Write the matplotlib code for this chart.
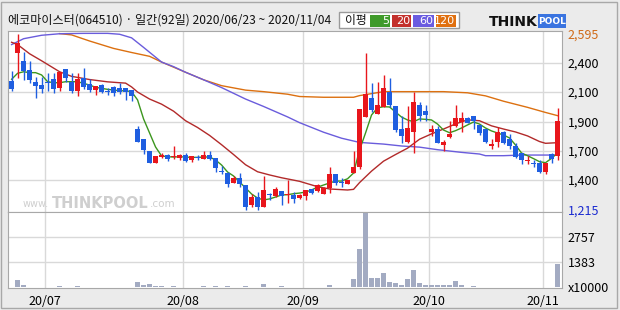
import matplotlib
matplotlib.use("Agg")
import matplotlib.pyplot as plt
from matplotlib.patches import Rectangle
import numpy as np

plt.rcParams['font.family'] = ['Noto Sans CJK KR', 'DejaVu Sans']

# daily candles, 2020/06/23 ~ 2020/11/04 (92 trading days)
opens = [2229, 2444, 2383, 2313, 2219, 2195, 2221, 2240, 2174, 2318,
         2221, 2148, 2252, 2203, 2156, 2195, 2145, 2182, 2169, 2169,
         2156, 1850, 1772, 1678, 1586, 1633, 1646, 1628, 1623, 1646,
         1607, 1633, 1617, 1646, 1620, 1522, 1508, 1429, 1464, 1411,
         1254, 1319, 1241, 1338, 1325, 1364, 1330, 1333, 1312, 1327,
         1380, 1367, 1338, 1390, 1497, 1437, 1419, 1508, 1555, 1947,
         2091, 1968, 2025, 2143, 2030, 1848, 1751, 1829, 2039, 1991,
         1829, 1850, 1725, 1790, 1874, 1903, 1934, 1952, 1882, 1850,
         1717, 1751, 1829, 1772, 1717, 1660, 1602, 1587, 1587, 1516,
         1654, 1638]
highs = [2305, 2595, 2456, 2386, 2260, 2260, 2287, 2287, 2300, 2320,
         2287, 2292, 2326, 2240, 2190, 2203, 2170, 2185, 2208, 2170,
         2158, 1876, 1775, 1678, 1640, 1660, 1654, 1717, 1654, 1660,
         1640, 1646, 1678, 1678, 1622, 1563, 1510, 1482, 1503, 1413,
         1338, 1359, 1482, 1346, 1398, 1366, 1450, 1359, 1338, 1374,
         1382, 1419, 1392, 1555, 1500, 1463, 1452, 1680, 2010, 2448,
         2213, 2221, 2274, 2248, 2030, 1952, 2030, 2143, 2064, 2039,
         1882, 1874, 1764, 1915, 2039, 1986, 1942, 1955, 1884, 1852,
         1769, 1868, 1832, 1811, 1738, 1662, 1638, 1607, 1607, 1584,
         1664, 2017]
lows = [2148, 2252, 2234, 2208, 2096, 2130, 2148, 2130, 2150, 2221,
        2130, 2111, 2161, 2138, 2117, 2130, 2117, 2111, 2125, 2078,
        2070, 1748, 1654, 1583, 1583, 1620, 1602, 1612, 1607, 1589,
        1592, 1607, 1612, 1607, 1515, 1497, 1393, 1424, 1393, 1215,
        1241, 1215, 1241, 1294, 1320, 1254, 1273, 1273, 1299, 1294,
        1343, 1359, 1338, 1351, 1411, 1393, 1417, 1508, 1535, 1942,
        1986, 1968, 2020, 2020, 1829, 1743, 1743, 1660, 1915, 1915,
        1795, 1743, 1680, 1777, 1868, 1829, 1895, 1848, 1803, 1738,
        1694, 1712, 1735, 1691, 1620, 1576, 1576, 1550, 1508, 1497,
        1581, 1607]
closes = [2164, 2527, 2307, 2234, 2190, 2164, 2209, 2164, 2297, 2252,
          2148, 2240, 2182, 2156, 2187, 2143, 2140, 2130, 2138, 2138,
          2111, 1751, 1686, 1586, 1639, 1644, 1617, 1638, 1649, 1602,
          1638, 1620, 1646, 1612, 1542, 1511, 1419, 1464, 1419, 1241,
          1319, 1241, 1372, 1330, 1377, 1327, 1343, 1299, 1333, 1372,
          1346, 1411, 1390, 1497, 1429, 1429, 1450, 1555, 2007, 2125,
          2000, 2039, 2169, 2039, 1842, 1795, 1856, 2064, 1952, 1960,
          1850, 1743, 1751, 1811, 1934, 1934, 1900, 1915, 1821, 1751,
          1733, 1824, 1738, 1717, 1628, 1607, 1610, 1574, 1516, 1581,
          1615, 1915]
# volume, x10000 shares
volumes = [50, 425, 110, 40, 40, 40, 40, 40, 95, 40,
           40, 95, 40, 40, 40, 40, 40, 40, 40, 40,
           40, 313, 150, 203, 92, 92, 40, 92, 40, 40,
           40, 40, 92, 40, 92, 40, 92, 40, 40, 92,
           40, 40, 203, 40, 40, 92, 40, 40, 40, 40,
           40, 40, 40, 150, 40, 40, 40, 480, 2080, 4500,
           535, 535, 810, 313, 220, 150, 480, 920, 258, 150,
           150, 150, 150, 150, 368, 150, 40, 92, 40, 40,
           40, 40, 40, 40, 40, 40, 40, 40, 40, 40,
           40, 1250]

# moving averages
ma5 = [2240, 2287, 2299, 2292, 2292, 2274, 2221, 2213, 2213, 2221,
       2221, 2221, 2208, 2195, 2177, 2169, 2161, 2156, 2150, 2150,
       2143, 2078, 1929, 1819, 1709, 1639, 1633, 1630, 1633, 1630,
       1628, 1628, 1630, 1631, 1607, 1568, 1513, 1482, 1435, 1388,
       1341, 1309, 1294, 1302, 1317, 1333, 1335, 1343, 1348, 1356,
       1372, 1395, 1411, 1427, 1442, 1442, 1460, 1505, 1686, 1819,
       1960, 2016, 2025, 2023, 1983, 1944, 1921, 1907, 1929, 1926,
       1921, 1889, 1842, 1821, 1837, 1858, 1882, 1905, 1889, 1858,
       1835, 1819, 1803, 1780, 1725, 1662, 1641, 1618, 1594, 1586,
       1620, 1662]
ma20_day = [0, 1, 3, 5, 8, 10, 13, 16, 18, 19, 20, 21, 23, 25, 27, 29, 31, 33,
            35, 37, 39, 41, 43, 45, 48, 51, 53, 56, 57, 58, 60, 62, 64, 66,
            68, 70, 72, 74, 76, 78, 80, 82, 84, 86, 88, 89, 91]
ma20 = [2530, 2512, 2440, 2385, 2299, 2263, 2238, 2220, 2213, 2210, 2180,
        2140, 2085, 2045, 1990, 1915, 1862, 1800, 1727, 1650, 1570, 1515,
        1490, 1468, 1440, 1398, 1380, 1372, 1377, 1430, 1520, 1598, 1650,
        1700, 1770, 1812, 1850, 1890, 1922, 1915, 1875, 1850, 1827, 1796,
        1752, 1738, 1743]
ma60_day = [0, 2, 5, 8, 12, 16, 18, 20, 22, 25, 27, 29, 32, 35, 39, 42, 46,
            48, 52, 55, 58, 62, 65, 68, 71, 75, 78, 79, 82, 85, 91]
ma60 = [2512, 2558, 2585, 2597, 2600, 2600, 2593, 2565, 2490, 2375, 2339,
        2295, 2236, 2175, 2085, 2027, 1945, 1900, 1825, 1778, 1745, 1732,
        1717, 1708, 1688, 1667, 1654, 1641, 1641, 1646, 1646]
ma120_day = [8, 10, 13, 17, 20, 23, 25, 29, 32, 35, 39, 42, 46, 48, 52, 57,
             58, 62, 72, 76, 79, 82, 86, 89, 91]
ma120 = [2598, 2588, 2540, 2482, 2450, 2420, 2375, 2295, 2236, 2190, 2155,
         2143, 2123, 2105, 2099, 2099, 2112, 2143, 2143, 2134, 2110, 2068,
         2020, 1980, 1955]

month_start = [6, 29, 49, 70, 89]
month_labels = ['20/07', '20/08', '20/09', '20/10', '20/11']
price_grid = [2368, 2140, 1905, 1678, 1450]
price_grid_labels = ['2,400', '2,100', '1,900', '1,700', '1,400']
vol_grid = [1383, 2757]

RED = '#e8161c'
BLUE = '#1f5ee0'
GRID = '#d9d9d9'
W, H = 620, 310


def box(x0, y0, x1, y1):
    return [x0 / W, 1 - y1 / H, (x1 - x0) / W, (y1 - y0) / H]


fig = plt.figure(figsize=(6.2, 3.1), dpi=100, facecolor='#ebebeb')

# overlay for title, legend and logo (pixel coords)
ov = fig.add_axes([0, 0, 1, 1], zorder=0)
ov.set_xlim(0, W)
ov.set_ylim(H, 0)
ov.axis('off')
ov.add_patch(Rectangle((1, 2), 616, 306, fill=False, ec='#a8a8a8', lw=1))
ov.text(8, 20, '에코마이스터(064510) · 일간(92일) 2020/06/23 ~ 2020/11/04',
        fontsize=8.7, va='center', ha='left', color='#111111')
ov.add_patch(Rectangle((339, 12), 120, 16, fc='white', ec='#9a9a9a', lw=1))
ov.text(345, 20.5, '이평', fontsize=8.5, va='center', color='#111111')
for x0, w, lab, col in [(370, 20, '5', '#3f9a2a'), (392, 19, '20', '#c3302c'),
                        (413, 21, '60', '#6a5ce0'), (436, 20, '120', '#e07010')]:
    ov.add_patch(Rectangle((x0, 14.5), w, 12, fc=col, ec='none'))
    ov.text(x0 + w - 1, 20.8, lab, fontsize=8, color='white', ha='right',
            va='center', family='DejaVu Sans')
# THINKPOOL logo
ov.text(538, 21.5, 'THINK', fontsize=10, fontweight='bold', color='#111111',
        va='center', ha='right', family='DejaVu Sans')
ov.add_patch(Rectangle((538, 14), 28, 14, fc='#3a74e0', ec='none'))
ov.text(552, 21.5, 'POOL', fontsize=6.5, fontweight='bold', color='white',
        va='center', ha='center', family='DejaVu Sans')

x = np.arange(len(closes))
o = np.array(opens)
c = np.array(closes)
up = c >= o
colors = np.where(up, RED, BLUE)
body_lo = np.minimum(o, c)
body_h = np.maximum(np.abs(c - o), 7)

# price panel
ax = fig.add_axes(box(8, 31, 562, 212), zorder=2)
ax.set_facecolor('white')
for m in month_start:
    ax.axvline(m - 0.5, color=GRID, lw=1, zorder=0)
for g in price_grid:
    ax.axhline(g, color=GRID, lw=1, zorder=0)
# watermark
ax.text(0.026, 0.015, 'www.', transform=ax.transAxes, fontsize=7,
        color='#cfcfcf', va='bottom', family='DejaVu Sans', zorder=0.5)
ax.text(0.079, 0.008, 'THINKPOOL', transform=ax.transAxes, fontsize=10.5,
        fontweight='bold', color='#cfcfcf', va='bottom', family='DejaVu Sans',
        zorder=0.5)
ax.text(0.256, 0.015, '.com', transform=ax.transAxes, fontsize=7.5,
        color='#cfcfcf', va='bottom', family='DejaVu Sans', zorder=0.5)

ax.plot(ma120_day, ma120, color='#dc7010', lw=1, zorder=2)
ax.plot(ma60_day, ma60, color='#6a5cdc', lw=1, zorder=2)
ax.plot(ma20_day, ma20, color='#b22a2a', lw=1, zorder=2)
ax.plot(x, ma5, color='#3c961e', lw=1, zorder=2)

ax.vlines(x, lows, highs, colors=colors, lw=1, zorder=3)
ax.bar(x, body_h, bottom=body_lo, width=0.8, color=colors, zorder=4)

ax.set_xlim(-0.6, 91.75)
ax.set_ylim(1199.5, 2618.5)
ax.yaxis.tick_right()
ax.set_yticks([2595] + price_grid + [1215],
              ['2,595'] + price_grid_labels + ['1,215'])
ax.tick_params(axis='y', length=0, pad=4, labelsize=9)
ax.tick_params(axis='x', length=0, labelbottom=False)
tl = ax.get_yticklabels()
tl[0].set_color('#d06a18')
tl[-1].set_color('#1a2ad0')
for s in ax.spines.values():
    s.set_color('#a8a8a8')

# volume panel
axv = fig.add_axes(box(8, 212, 562, 288), zorder=2)
axv.set_facecolor('white')
for m in month_start:
    axv.axvline(m - 0.5, color=GRID, lw=1, zorder=0)
for g in vol_grid:
    axv.axhline(g, color=GRID, lw=1, zorder=0)
axv.bar(x, volumes, width=0.8, color='#a3abc2', zorder=2)
axv.set_xlim(-0.6, 91.75)
axv.set_ylim(-30, 4090)
axv.yaxis.tick_right()
axv.set_yticks([0] + vol_grid, ['x10000', '1383', '2757'])
axv.tick_params(axis='y', length=0, pad=4, labelsize=9)
axv.set_xticks(np.array(month_start) - 0.5, month_labels)
axv.tick_params(axis='x', length=0, pad=5, labelsize=9)
for s in axv.spines.values():
    s.set_color('#a8a8a8')

fig.savefig('out.png', dpi=100, facecolor=fig.get_facecolor())
